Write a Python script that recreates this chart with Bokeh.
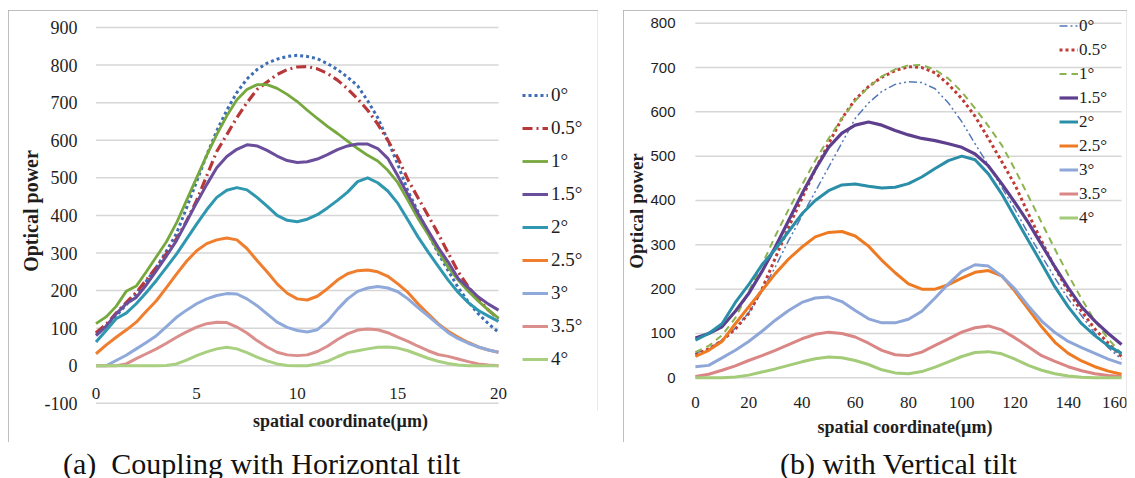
from bokeh.plotting import figure
from bokeh.models import (Legend, LegendItem, FixedTicker, Div, Spacer, Range1d, LinearAxis,
                          InlineStyleSheet)
from bokeh.layouts import row, column
from bokeh.embed import file_html
from bokeh.resources import INLINE

# ---------------- data: panel (a) horizontal tilt ----------------
x_a = [0, 0.5, 1, 1.5, 2, 2.5, 3, 3.5, 4, 4.5, 5, 5.5, 6, 6.5, 7, 7.5, 8, 8.5, 9, 9.5,
       10, 10.5, 11, 11.5, 12, 12.5, 13, 13.5, 14, 14.5, 15, 15.5, 16, 16.5, 17, 17.5,
       18, 18.5, 19, 19.5, 20]
a_0deg = [85, 105, 133, 162, 192, 225, 262, 305, 352, 420, 490, 560, 625, 680, 727, 763, 788, 805, 816, 823,
          826, 823, 817, 804, 788, 768, 745, 705, 660, 600, 535, 465, 410, 352, 300, 253, 208, 170, 138, 112, 89]
a_05deg = [88, 110, 140, 168, 195, 228, 262, 298, 338, 385, 440, 505, 570, 615, 660, 700, 735, 755, 775, 788,
           795, 796, 790, 778, 760, 737, 710, 680, 643, 600, 553, 495, 447, 400, 352, 300, 250, 210, 178, 148, 125]
a_1deg = [112, 130, 158, 198, 212, 250, 290, 330, 380, 440, 500, 560, 615, 665, 708, 735, 748, 748, 738, 722,
          703, 680, 658, 637, 618, 598, 578, 560, 545, 520, 487, 440, 392, 350, 305, 262, 228, 198, 172, 148, 127]
a_15deg = [80, 105, 138, 165, 182, 215, 253, 292, 333, 383, 434, 482, 527, 557, 576, 588, 585, 573, 558, 546,
           541, 543, 550, 562, 575, 585, 590, 590, 578, 552, 505, 455, 405, 360, 315, 276, 232, 208, 183, 164, 148]
a_2deg = [63, 94, 125, 140, 165, 195, 227, 262, 297, 337, 377, 415, 448, 467, 474, 468, 448, 425, 400, 387,
          383, 390, 402, 420, 440, 462, 490, 500, 487, 465, 432, 388, 343, 303, 265, 228, 195, 168, 147, 132, 118]
a_25deg = [32, 55, 76, 95, 116, 145, 173, 208, 244, 278, 306, 325, 335, 340, 335, 312, 280, 250, 218, 193,
           178, 175, 185, 205, 228, 245, 253, 255, 250, 238, 218, 195, 165, 138, 112, 92, 76, 62, 50, 42, 36]
a_3deg = [0, 0, 14, 28, 45, 62, 80, 104, 129, 148, 165, 178, 187, 192, 191, 178, 160, 138, 116, 102,
          94, 90, 96, 118, 150, 178, 198, 207, 211, 207, 197, 178, 155, 133, 110, 88, 72, 60, 50, 42, 36]
a_35deg = [0, 0, 0, 5, 19, 32, 45, 60, 76, 90, 103, 112, 116, 115, 103, 87, 67, 50, 36, 29,
           27, 29, 38, 52, 70, 85, 95, 98, 96, 88, 76, 65, 52, 40, 30, 25, 18, 11, 5, 2, 0]
a_4deg = [0, 0, 0, 0, 0, 0, 0, 1, 5, 15, 27, 37, 45, 49, 45, 35, 23, 13, 5, 1,
          0, 0, 5, 12, 24, 35, 40, 45, 49, 50, 47, 40, 30, 20, 12, 6, 2, 0, 0, 0, 0]

# ---------------- data: panel (b) vertical tilt ----------------
x_b = [0, 5, 10, 15, 20, 25, 30, 35, 40, 45, 50, 55, 60, 65, 70, 75, 80, 85, 90, 95,
       100, 105, 110, 115, 120, 125, 130, 135, 140, 145, 150, 155, 160]
b_0deg = [55, 66, 85, 112, 147, 195, 250, 310, 365, 420, 475, 530, 585, 620, 646, 662, 668, 666, 652, 620,
          578, 528, 480, 430, 380, 325, 275, 225, 178, 140, 100, 68, 42]
b_05deg = [52, 65, 84, 110, 145, 200, 270, 340, 405, 470, 528, 585, 628, 657, 678, 693, 702, 700, 688, 662,
           630, 590, 540, 488, 435, 370, 308, 248, 195, 150, 110, 78, 48]
b_1deg = [58, 72, 96, 135, 195, 255, 320, 380, 435, 490, 540, 585, 625, 656, 680, 696, 705, 706, 695, 675,
          645, 608, 568, 525, 470, 410, 350, 290, 232, 178, 128, 88, 54]
b_15deg = [90, 100, 115, 150, 190, 240, 295, 355, 415, 470, 520, 552, 570, 577, 570, 558, 548, 540, 535, 528,
           520, 505, 478, 438, 395, 350, 300, 250, 203, 160, 128, 100, 75]
b_2deg = [85, 100, 122, 170, 210, 255, 290, 330, 370, 400, 422, 435, 437, 432, 428, 430, 438, 453, 472, 490,
          500, 492, 460, 415, 362, 310, 258, 205, 160, 122, 95, 72, 55]
b_25deg = [48, 62, 82, 122, 160, 197, 235, 268, 295, 318, 328, 330, 320, 297, 265, 237, 212, 200, 200, 210,
           225, 238, 242, 230, 195, 155, 115, 80, 55, 38, 25, 15, 8]
b_3deg = [25, 28, 45, 62, 82, 105, 130, 152, 170, 180, 182, 172, 152, 133, 124, 124, 132, 150, 180, 212,
          240, 255, 252, 230, 200, 162, 128, 102, 82, 68, 55, 42, 32]
b_35deg = [3, 8, 17, 27, 39, 50, 62, 75, 88, 98, 103, 100, 92, 78, 62, 52, 50, 58, 73, 88,
           103, 113, 117, 108, 90, 70, 50, 37, 25, 16, 9, 5, 3]
b_4deg = [0, 0, 0, 2, 6, 13, 20, 28, 36, 43, 47, 45, 39, 30, 18, 11, 9, 14, 24, 36,
          48, 57, 59, 54, 42, 28, 17, 9, 4, 1, 0, 0, 0]

labels = ["0°", "0.5°", "1°", "1.5°", "2°", "2.5°", "3°", "3.5°", "4°"]
a_xticks = [0, 5, 10, 15, 20]
a_yticks = [-100, 0, 100, 200, 300, 400, 500, 600, 700, 800, 900]
b_xticks = [0, 20, 40, 60, 80, 100, 120, 140, 160]
b_yticks = [0, 100, 200, 300, 400, 500, 600, 700, 800]

a_series = [a_0deg, a_05deg, a_1deg, a_15deg, a_2deg, a_25deg, a_3deg, a_35deg, a_4deg]
b_series = [b_0deg, b_05deg, b_1deg, b_15deg, b_2deg, b_25deg, b_3deg, b_35deg, b_4deg]

# styles (color, width, dash)
a_styles = [("#3D6DB5", 3, "3 3"), ("#B8383A", 3.2, "10 4 2 4"), ("#76A83E", 2.8, "solid"),
            ("#6A4D9B", 3, "solid"), ("#2F97AF", 3, "solid"), ("#EF7F2E", 3, "solid"),
            ("#8FA9DA", 3, "solid"), ("#DA8F8D", 3, "solid"), ("#A9CF80", 3, "solid")]
b_styles = [("#5579B8", 1.5, "8 3 2 3 2 3"), ("#C03B35", 3, "3 3"), ("#8CB34E", 2, "7 5"),
            ("#5E3F8E", 3.2, "solid"), ("#2A8EA8", 3, "solid"), ("#EE7A22", 3, "solid"),
            ("#8EA7D8", 3, "solid"), ("#D98684", 3, "solid"), ("#A3CB78", 3, "solid")]

SERIF = "Liberation Serif"
GRID = "#d6d6d6"
TXT = "#1e1e1e"


def bare(ax):
    ax.axis_line_color = None
    ax.major_tick_line_color = None
    ax.minor_tick_line_color = None
    ax.major_label_text_color = TXT
    ax.axis_label_text_color = TXT
    ax.axis_label_text_font = SERIF
    ax.axis_label_text_font_style = "bold"


def build(p, xs, series, styles, xticks, yticks, x_max):
    p.xaxis.visible = False
    p.xgrid.visible = False
    p.ygrid.visible = False
    p.outline_line_color = None
    # horizontal grid lines spanning the data x extent only
    p.segment(x0=[xticks[0]] * len(yticks), x1=[x_max] * len(yticks), y0=yticks, y1=yticks,
              line_color=GRID, line_width=1.5)
    # tick labels sit on the y=0 line (inside the frame)
    xt = LinearAxis(ticker=FixedTicker(ticks=xticks), fixed_location=0)
    bare(xt)
    xt.major_label_text_font = SERIF
    xt.major_label_text_font_size = "17px"
    p.add_layout(xt, "below")
    # axis title below the frame
    xl = LinearAxis(ticker=FixedTicker(ticks=[]), axis_label="spatial coordinate(µm)")
    bare(xl)
    xl.major_label_standoff = 0
    xl.axis_label_text_font_size = "18px"
    p.add_layout(xl, "below")
    ya = p.yaxis[0]
    bare(ya)
    ya.ticker = FixedTicker(ticks=yticks)
    ya.axis_label = "Optical power"
    items = []
    for lab, ys, (col, w, dash) in zip(labels, series, styles):
        r = p.line(xs, ys, line_color=col, line_width=w, line_dash=dash, line_join="round")
        items.append(LegendItem(label=lab, renderers=[r]))
    return items, xt, xl, ya


box_css = ":host { outline: 1px solid #a8a8a8; outline-offset: -1px; }"

# ---------------- panel (a) ----------------
pa = figure(width=590, height=432, x_range=Range1d(-0.621, 24.92), y_range=Range1d(-119, 942.6),
            output_backend="svg", toolbar_location=None,
            min_border_left=75, min_border_right=1, min_border_top=1, min_border_bottom=32,
            background_fill_color="white", border_fill_color="white")
pa.stylesheets = [InlineStyleSheet(css=box_css)]
items_a, xt_a, xl_a, ya_a = build(pa, x_a, a_series, a_styles, a_xticks, a_yticks, 20)
xt_a.major_label_standoff = 16
xl_a.axis_label_standoff = 0
ya_a.major_label_text_font = SERIF
ya_a.major_label_text_font_size = "18px"
ya_a.major_label_standoff = 0
ya_a.axis_label_standoff = 0
ya_a.axis_label_text_font_size = "20px"
ya_a.major_label_overrides = {-100: "-100"}
leg_a = Legend(items=items_a, location=(439, 40), padding=0, margin=0, spacing=11,
               label_height=22, glyph_height=22, glyph_width=26, label_standoff=3,
               label_text_font=SERIF, label_text_font_size="19px", label_text_color=TXT,
               border_line_color=None, background_fill_alpha=0)
pa.add_layout(leg_a)

# ---------------- panel (b) ----------------
pb = figure(width=504, height=432, x_range=Range1d(-4.47, 161.86), y_range=Range1d(-73.8, 826.4),
            output_backend="svg", toolbar_location=None,
            min_border_left=56, min_border_right=1, min_border_top=1, min_border_bottom=32,
            background_fill_color="white", border_fill_color="white")
pb.stylesheets = [InlineStyleSheet(css=box_css)]
items_b, xt_b, xl_b, ya_b = build(pb, x_b, b_series, b_styles, b_xticks, b_yticks, 160)
xt_b.major_label_standoff = 13
xl_b.axis_label_standoff = 6
ya_b.major_label_text_font = "Liberation Sans"
ya_b.major_label_text_font_size = "15px"
ya_b.major_label_standoff = 2
ya_b.axis_label_standoff = 0
ya_b.axis_label_text_font_size = "19px"
leg_b = Legend(items=items_b, location=(376, 182), padding=0, margin=0, spacing=3,
               label_height=21, glyph_height=21, glyph_width=19, label_standoff=1,
               label_text_font=SERIF, label_text_font_size="17px", label_text_color=TXT,
               border_line_color=None, background_fill_alpha=0)
pb.add_layout(leg_b)

cap_style = ("font-family:'Liberation Serif',serif;font-size:30px;line-height:34px;"
             "color:#111;white-space:nowrap;")
cap_a = Div(text='<div style="%spadding-left:50px">(a)&nbsp;&nbsp;Coupling with Horizontal tilt</div>' % cap_style,
            width=590, height=35)
cap_b = Div(text='<div style="%spadding-left:142px">(b) with Vertical tilt</div>' % cap_style,
            width=504, height=35)

layout = row(Spacer(width=8, height=477),
             column(Spacer(width=1119, height=10),
                    row(pa, Spacer(width=25, height=432), pb),
                    row(cap_a, Spacer(width=25, height=35), cap_b)))

open("out.html", "w").write(file_html(layout, INLINE))
